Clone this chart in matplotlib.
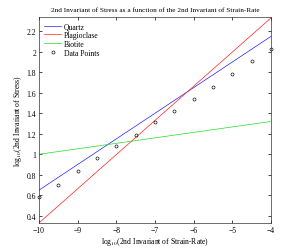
import matplotlib.pyplot as plt
import numpy as np

plt.rcParams['font.family'] = ['Liberation Serif', 'DejaVu Serif']
plt.rcParams['mathtext.fontset'] = 'stix'

# fitted lines (end points at log10 strain rate -10 and -4)
line_x = [-10, -4]
quartz = [0.65, 2.15]
plag = [0.33, 2.33]
biotite = [1.0, 1.32]

# data points
pts_x = [-10, -9.5, -9, -8.5, -8, -7.5, -7, -6.5, -6, -5.5, -5, -4.5, -4]
pts_y = [0.58, 0.70, 0.835, 0.96, 1.08, 1.19, 1.31, 1.42, 1.54, 1.66, 1.78, 1.91, 2.03]

fig = plt.figure(figsize=(3.0, 2.53), dpi=100)
ax = fig.add_axes([0.13, 0.115, 0.773, 0.814])

ax.plot(line_x, quartz, color='#2020ff', lw=0.5, label='Quartz')
ax.plot(line_x, plag, color='#ff2020', lw=0.5, label='Plagioclase')
ax.plot(line_x, biotite, color='#20e020', lw=0.5, label='Biotite')
ax.plot(pts_x, pts_y, 'o', ms=2.2, mfc='none', mec='k', mew=0.45, label='Data Points',
        clip_on=False)

ax.set_xlim(-10, -4)
ax.set_ylim(0.33, 2.34)
ax.set_xticks(np.arange(-10, -3, 1))
ax.set_yticks(np.arange(0.4, 2.21, 0.2))
ax.set_yticklabels(['0.4', '0.6', '0.8', '1', '1.2', '1.4', '1.6', '1.8', '2', '2.2'])
ax.tick_params(direction='in', top=True, right=True, labelsize=5.5, length=2.5, width=0.5, pad=2)
for s in ax.spines.values():
    s.set_linewidth(0.5)
    s.set_color('#333333')

ax.set_title('2nd Invariant of Stress as a function of the 2nd Invariant of Strain-Rate',
             fontsize=5.2, pad=4)
ax.set_xlabel('log$_{10}$(2nd Invariant of Strain-Rate)', fontsize=5.5, labelpad=1)
ax.set_ylabel('log$_{10}$(2nd Invariant of Stress)', fontsize=5.5, labelpad=2)
ax.legend(loc='upper left', fontsize=5.5, frameon=False, handlelength=2.2,
          labelspacing=0.1, borderaxespad=0.3, handletextpad=0.4)

fig.savefig('out.png', dpi=100)
